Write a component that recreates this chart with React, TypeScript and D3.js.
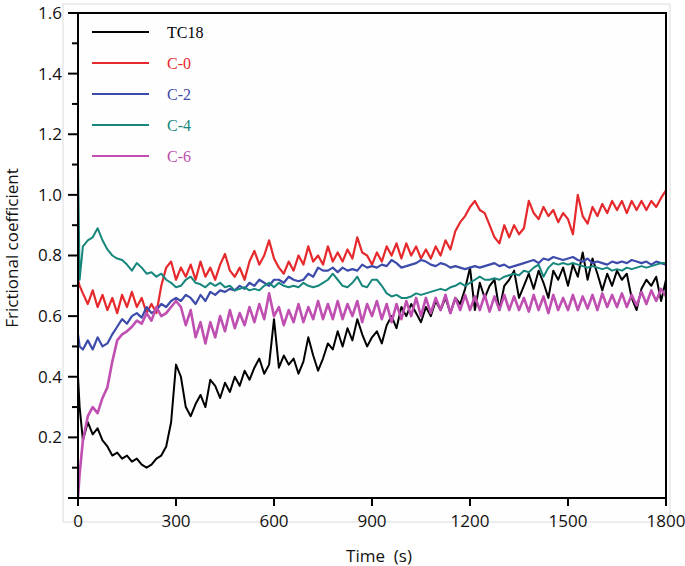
import React from "react";
import * as d3 from "d3";

// time grid: 0 s, 5 s, then every 15 s up to 1800 s
const times: number[] = [0, 5, ...d3.range(15, 1801, 15)];

const tc18: number[] = [
  0.40, 0.30,
  0.19, 0.25, 0.21, 0.23, 0.19, 0.17, 0.14, 0.15, 0.13, 0.14,
  0.12, 0.13, 0.11, 0.10, 0.11, 0.13, 0.14, 0.17, 0.25, 0.44,
  0.40, 0.30, 0.27, 0.31, 0.34, 0.30, 0.39, 0.37, 0.33, 0.38,
  0.35, 0.40, 0.37, 0.42, 0.39, 0.43, 0.46, 0.41, 0.44, 0.59,
  0.43, 0.47, 0.44, 0.46, 0.41, 0.45, 0.53, 0.47, 0.42, 0.46,
  0.51, 0.49, 0.55, 0.50, 0.56, 0.52, 0.59, 0.54, 0.50, 0.53,
  0.55, 0.51, 0.57, 0.60, 0.56, 0.63, 0.60, 0.64, 0.61, 0.58,
  0.63, 0.60, 0.65, 0.62, 0.66, 0.61, 0.66, 0.64, 0.69, 0.76,
  0.62, 0.71, 0.66, 0.70, 0.72, 0.62, 0.70, 0.72, 0.75, 0.66,
  0.70, 0.74, 0.69, 0.75, 0.71, 0.66, 0.75, 0.72, 0.76, 0.70,
  0.77, 0.73, 0.81, 0.72, 0.79, 0.74, 0.685, 0.74, 0.70, 0.75,
  0.72, 0.74, 0.66, 0.62, 0.69, 0.72, 0.70, 0.73, 0.65, 0.72,
];

const c0: number[] = [
  0.72, 0.70,
  0.675, 0.64, 0.685, 0.63, 0.67, 0.62, 0.66, 0.61, 0.67, 0.63,
  0.68, 0.63, 0.66, 0.61, 0.64, 0.61, 0.70, 0.76, 0.78, 0.72,
  0.76, 0.73, 0.77, 0.72, 0.78, 0.73, 0.76, 0.72, 0.77, 0.805,
  0.75, 0.73, 0.76, 0.72, 0.78, 0.815, 0.77, 0.80, 0.85, 0.79,
  0.76, 0.74, 0.78, 0.75, 0.80, 0.77, 0.83, 0.78, 0.80, 0.77,
  0.83, 0.78, 0.81, 0.78, 0.82, 0.79, 0.86, 0.81, 0.80, 0.77,
  0.81, 0.78, 0.83, 0.80, 0.84, 0.79, 0.84, 0.80, 0.83, 0.79,
  0.82, 0.79, 0.83, 0.80, 0.85, 0.82, 0.88, 0.91, 0.93, 0.96,
  0.98, 0.95, 0.94, 0.90, 0.86, 0.84, 0.90, 0.86, 0.90, 0.87,
  0.89, 0.98, 0.94, 0.92, 0.96, 0.93, 0.95, 0.91, 0.94, 0.92,
  0.87, 1.0, 0.93, 0.905, 0.96, 0.93, 0.97, 0.94, 0.98, 0.95,
  0.98, 0.94, 0.98, 0.95, 0.98, 0.95, 0.98, 0.96, 0.99, 1.015,
];

const c2: number[] = [
  0.54, 0.50,
  0.49, 0.52, 0.49, 0.53, 0.50, 0.51, 0.54, 0.565, 0.59, 0.575,
  0.60, 0.61, 0.595, 0.63, 0.61, 0.62, 0.64, 0.63, 0.65, 0.66,
  0.65, 0.67, 0.66, 0.64, 0.67, 0.65, 0.68, 0.67, 0.685, 0.68,
  0.69, 0.685, 0.70, 0.69, 0.71, 0.70, 0.72, 0.71, 0.70, 0.72,
  0.72, 0.71, 0.73, 0.72, 0.715, 0.72, 0.74, 0.73, 0.76, 0.75,
  0.75, 0.76, 0.745, 0.76, 0.75, 0.755, 0.75, 0.77, 0.76, 0.765,
  0.76, 0.77, 0.765, 0.785, 0.775, 0.76, 0.765, 0.77, 0.775, 0.785,
  0.78, 0.77, 0.765, 0.775, 0.77, 0.76, 0.765, 0.76, 0.755, 0.76,
  0.765, 0.76, 0.765, 0.77, 0.775, 0.765, 0.77, 0.76, 0.765, 0.77,
  0.775, 0.78, 0.785, 0.775, 0.79, 0.785, 0.795, 0.79, 0.785, 0.79,
  0.795, 0.785, 0.78, 0.79, 0.775, 0.78, 0.775, 0.77, 0.78, 0.775,
  0.78, 0.775, 0.785, 0.78, 0.775, 0.78, 0.77, 0.78, 0.775, 0.77,
];

const c4: number[] = [
  1.10, 0.72,
  0.83, 0.85, 0.86, 0.89, 0.85, 0.82, 0.80, 0.79, 0.785, 0.77,
  0.75, 0.775, 0.76, 0.74, 0.745, 0.73, 0.74, 0.72, 0.71, 0.695,
  0.70, 0.72, 0.73, 0.71, 0.705, 0.695, 0.71, 0.70, 0.71, 0.695,
  0.70, 0.685, 0.69, 0.695, 0.685, 0.69, 0.685, 0.70, 0.71, 0.695,
  0.71, 0.70, 0.695, 0.70, 0.695, 0.71, 0.70, 0.695, 0.70, 0.71,
  0.72, 0.74, 0.72, 0.70, 0.695, 0.71, 0.73, 0.70, 0.695, 0.72,
  0.72, 0.70, 0.675, 0.665, 0.67, 0.66, 0.66, 0.665, 0.675, 0.67,
  0.675, 0.68, 0.685, 0.69, 0.685, 0.695, 0.70, 0.71, 0.70, 0.71,
  0.72, 0.73, 0.72, 0.72, 0.725, 0.72, 0.73, 0.735, 0.74, 0.735,
  0.75, 0.745, 0.76, 0.77, 0.73, 0.76, 0.775, 0.77, 0.775, 0.77,
  0.775, 0.77, 0.765, 0.76, 0.765, 0.76, 0.755, 0.76, 0.75, 0.755,
  0.75, 0.76, 0.755, 0.76, 0.765, 0.76, 0.765, 0.77, 0.775, 0.775,
];

const c6: number[] = [
  0.0, 0.08,
  0.19, 0.27, 0.30, 0.28, 0.33, 0.365, 0.45, 0.52, 0.54, 0.55,
  0.565, 0.585, 0.575, 0.61, 0.585, 0.63, 0.60, 0.61, 0.63, 0.65,
  0.63, 0.57, 0.62, 0.53, 0.58, 0.51, 0.58, 0.53, 0.60, 0.55,
  0.62, 0.56, 0.61, 0.57, 0.63, 0.58, 0.64, 0.59, 0.675, 0.60,
  0.63, 0.57, 0.62, 0.58, 0.64, 0.58, 0.63, 0.59, 0.65, 0.59,
  0.64, 0.59, 0.65, 0.59, 0.64, 0.60, 0.65, 0.58, 0.64, 0.60,
  0.65, 0.59, 0.64, 0.58, 0.64, 0.59, 0.65, 0.60, 0.66, 0.60,
  0.66, 0.61, 0.66, 0.62, 0.67, 0.61, 0.66, 0.62, 0.67, 0.62,
  0.665, 0.62, 0.67, 0.615, 0.665, 0.62, 0.67, 0.62, 0.665, 0.62,
  0.66, 0.615, 0.67, 0.62, 0.665, 0.61, 0.67, 0.62, 0.66, 0.62,
  0.67, 0.62, 0.665, 0.625, 0.67, 0.62, 0.675, 0.63, 0.67, 0.63,
  0.675, 0.63, 0.67, 0.635, 0.68, 0.64, 0.685, 0.65, 0.69, 0.665,
];

const seriesNames: string[] = ["TC18", "C-0", "C-2", "C-4", "C-6"];
const seriesValues: number[][] = [tc18, c0, c2, c4, c6];
const seriesColors: string[] = ["#000000", "#e5292c", "#3d4bab", "#17877d", "#bf4fb0"];
const seriesWidths: number[] = [2, 2.2, 2.2, 2, 2.6];

const xTicks: number[] = [0, 300, 600, 900, 1200, 1500, 1800];
const yMajorTicks: number[] = [0, 0.2, 0.4, 0.6, 0.8, 1.0, 1.2, 1.4, 1.6];
const yMinorTicks: number[] = [0.1, 0.3, 0.5, 0.7, 0.9, 1.1, 1.3, 1.5];

export default function App() {
  const W = 685;
  const H = 566;
  const left = 78, right = 666, top = 13, bottom = 498;
  const x = d3.scaleLinear().domain([0, 1800]).range([left, right]);
  const y = d3.scaleLinear().domain([0, 1.6]).range([bottom, top]);
  const line = d3
    .line<number>()
    .x((_, i) => x(times[i]))
    .y((d) => y(d));

  const tickFont = "'Open Sans', 'DejaVu Sans', sans-serif";
  const legendX0 = 92, legendX1 = 149, legendY0 = 32, legendDy = 31;

  return (
    <svg
      width={W}
      height={H}
      style={{ position: "absolute", left: 0, top: 0, background: "#fff" }}
    >
      <rect x={63} y={4} width={607} height={518} fill="#fefefe" stroke="#dcdcdc" strokeWidth={1} />
      <defs>
        <clipPath id="plotclip">
          <rect x={left} y={top} width={right - left} height={bottom - top} />
        </clipPath>
      </defs>

      <g clipPath="url(#plotclip)" fill="none" strokeLinejoin="round">
        {seriesValues.map((vals, k) => (
          <path key={k} d={line(vals) || ""} stroke={seriesColors[k]} strokeWidth={seriesWidths[k]} />
        ))}
      </g>

      {/* frame */}
      <rect x={left} y={top} width={right - left} height={bottom - top} fill="none" stroke="#000" strokeWidth={2} />

      {/* y ticks */}
      {yMajorTicks.map((v) => (
        <line key={"ym" + v} x1={left - 10} x2={left} y1={y(v)} y2={y(v)} stroke="#000" strokeWidth={2} />
      ))}
      {yMinorTicks.map((v) => (
        <line key={"yn" + v} x1={left - 6} x2={left} y1={y(v)} y2={y(v)} stroke="#000" strokeWidth={2} />
      ))}
      {yMajorTicks.filter((v) => v > 0).map((v) => (
        <text
          key={"yl" + v}
          x={62}
          y={y(v)}
          dy="0.35em"
          textAnchor="end"
          fontFamily={tickFont}
          fontSize={17}
          fill="#111"
        >
          {d3.format(".1f")(v)}
        </text>
      ))}

      {/* x ticks */}
      {xTicks.map((v) => (
        <g key={"x" + v}>
          <line x1={x(v)} x2={x(v)} y1={bottom} y2={bottom + 8} stroke="#000" strokeWidth={2} />
          <text
            x={x(v)}
            y={527}
            textAnchor="middle"
            fontFamily={tickFont}
            fontSize={17}
            fill="#111"
          >
            {v}
          </text>
        </g>
      ))}

      {/* axis titles */}
      <text
        x={379}
        y={562}
        textAnchor="middle"
        fontFamily={tickFont}
        fontSize={17}
        fill="#111"
        style={{ whiteSpace: "pre" }}
      >
        {"Time  (s)"}
      </text>
      <text
        transform={`translate(18,248) rotate(-90)`}
        textAnchor="middle"
        fontFamily={tickFont}
        fontSize={17}
        fill="#111"
      >
        Frictional coefficient
      </text>

      {/* legend */}
      {seriesNames.map((name, k) => (
        <g key={"lg" + name}>
          <line
            x1={legendX0}
            x2={legendX1}
            y1={legendY0 + k * legendDy}
            y2={legendY0 + k * legendDy}
            stroke={seriesColors[k]}
            strokeWidth={2}
          />
          <text
            x={167}
            y={legendY0 + k * legendDy}
            dy="0.35em"
            fontFamily="'Liberation Serif', 'Times New Roman', serif"
            fontSize={16}
            fill={seriesColors[k]}
          >
            {name}
          </text>
        </g>
      ))}
    </svg>
  );
}
